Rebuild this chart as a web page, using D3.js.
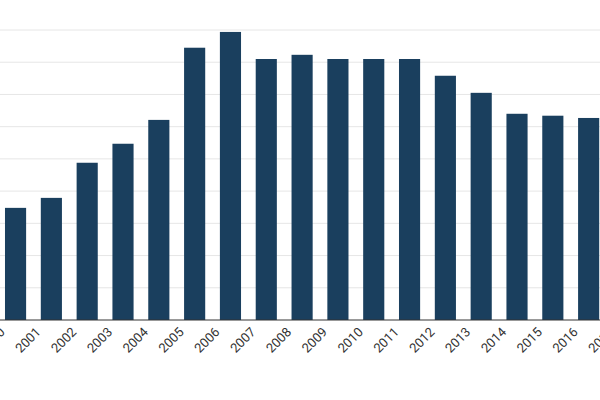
<!DOCTYPE html>
<html><head><meta charset="utf-8">
<script src="https://cdn.jsdelivr.net/npm/d3@7"></script>
<style>body{margin:0;background:#fff;} text{font-family:Roboto,sans-serif;}</style>
</head><body>
<svg id="chart" width="600" height="400"></svg>
<script>
var years = ["2000","2001","2002","2003","2004","2005","2006","2007","2008","2009","2010","2011","2012","2013","2014","2015","2016","2017","2018"];
var values = [3.2, 3.48, 3.79, 4.88, 5.47, 6.21, 8.45, 8.94, 8.1, 8.23, 8.1, 8.1, 8.1, 7.58, 7.05, 6.4, 6.34, 6.27, 6.2];
var gridTicks = [1,2,3,4,5,6,7,8,9];

var svg = d3.select("#chart");
var x = d3.scaleBand().domain(years).range([-38, -38 + 19 * 35.8]).paddingInner(0.41).paddingOuter(0.2);
var y = d3.scaleLinear().domain([0, 9]).range([320, 30]);

// gridlines
svg.append("g").selectAll("line").data(gridTicks).enter().append("line")
  .attr("x1", 0).attr("x2", 600)
  .attr("y1", function(d){ return y(d); }).attr("y2", function(d){ return y(d); })
  .attr("stroke", "#e6e6e6").attr("stroke-width", 1);

svg.append("g").selectAll("rect").data(values).enter().append("rect")
  .attr("x", function(d, i){ return x(years[i]); })
  .attr("width", x.bandwidth())
  .attr("y", function(d){ return y(d); })
  .attr("height", function(d){ return y(0) - y(d); })
  .attr("fill", "#1a3f5e");

// x axis
var xAxis = svg.append("g").attr("transform", "translate(0,320)")
  .call(d3.axisBottom(x).tickSize(0).tickPadding(9));
xAxis.select(".domain").remove();
xAxis.append("line").attr("x1", 0).attr("x2", 600).attr("stroke", "#333").attr("stroke-width", 1);
xAxis.selectAll("text")
  .attr("font-size", 13).attr("fill", "#333")
  .attr("text-anchor", "end")
  .attr("transform", "translate(13,0) rotate(-45)");
</script>
</body></html>
